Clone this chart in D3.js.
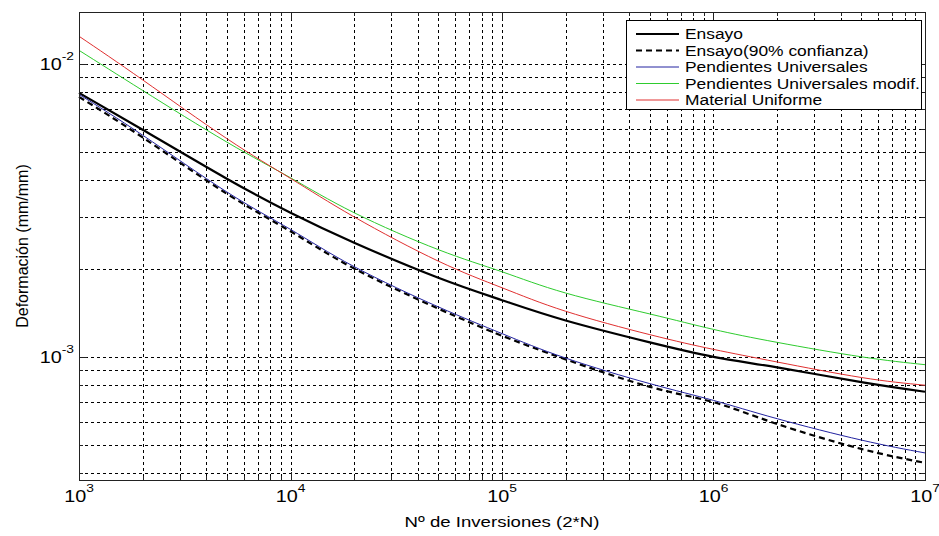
<!DOCTYPE html>
<html><head><meta charset="utf-8">
<script src="https://cdn.jsdelivr.net/npm/d3@7"></script>
<style>body{margin:0;background:#fff}svg{display:block;font-family:Arial,"Liberation Sans",sans-serif}</style>
</head><body><svg id="c" width="939" height="536"></svg>
<script>
// ---- data ----
const cycles = [1e3, 2e3, 5e3, 1e4, 2e4, 5e4, 1e5, 2e5, 5e5, 1e6, 2e6, 5e6, 1e7];
const ensayo       = [7.95e-3, 5.95e-3, 4.05e-3, 3.1e-3, 2.45e-3, 1.86e-3, 1.56e-3, 1.33e-3, 1.12e-3, 1.0e-3, 9.2e-4, 8.2e-4, 7.6e-4];
const ensayo90     = [7.7e-3, 5.6e-3, 3.6e-3, 2.68e-3, 2.0e-3, 1.46e-3, 1.18e-3, 9.8e-4, 7.9e-4, 7.0e-4, 5.9e-4, 4.85e-4, 4.35e-4];
const universales  = [7.85e-3, 5.7e-3, 3.65e-3, 2.72e-3, 2.03e-3, 1.48e-3, 1.2e-3, 9.9e-4, 8.1e-4, 7.1e-4, 6.15e-4, 5.2e-4, 4.7e-4];
const univModif    = [1.11e-2, 8.1e-3, 5.4e-3, 4.08e-3, 3.1e-3, 2.32e-3, 1.95e-3, 1.65e-3, 1.4e-3, 1.24e-3, 1.12e-3, 1.0e-3, 9.4e-4];
const uniforme     = [1.24e-2, 8.8e-3, 5.55e-3, 4.06e-3, 3.0e-3, 2.12e-3, 1.72e-3, 1.43e-3, 1.19e-3, 1.06e-3, 9.6e-4, 8.5e-4, 8.0e-4];
const seriesNames  = ["Ensayo", "Ensayo(90% confianza)", "Pendientes Universales", "Pendientes Universales modif.", "Material Uniforme"];
const xTickExps    = [3, 4, 5, 6, 7];
const yTickExps    = [-2, -3];
const xTitle = "Nº de Inversiones (2*N)";
const yTitle = "Deformación (mm/mm)";

// ---- layout / styles ----
const L = 79, R = 925, T = 12, B = 480;
const SX = 1.2; // horizontal stretch of the reference's text
const styles = [
  {color: "#000", width: 2.2, dash: null},
  {color: "#000", width: 2.2, dash: "6,4"},
  {color: "#2323a0", width: 1, dash: null},
  {color: "#2ecc2e", width: 1, dash: null},
  {color: "#e03030", width: 1, dash: null}
];
const allSeries = [ensayo, ensayo90, universales, univModif, uniforme];

const svg = d3.select("#c");
const x = d3.scaleLog().domain([1e3, 1e7]).range([L, R]);
const y = d3.scaleLog().domain([3.8e-4, 1.5e-2]).range([B, T]);

const xAll = [], yAll = [];
for (let e = 3; e <= 7; e++) for (let m = 1; m <= 9; m++) { const v = m * Math.pow(10, e); if (v >= 1e3 && v <= 1e7) xAll.push({v, major: m === 1}); }
for (let e = -4; e <= -2; e++) for (let m = 1; m <= 9; m++) { const v = m * Math.pow(10, e); if (v >= 3.8e-4 && v <= 1.5e-2) yAll.push({v, major: m === 1}); }

const grid = svg.append("g").attr("stroke", "#000").attr("stroke-width", 1).attr("stroke-dasharray", "3,3").attr("shape-rendering", "crispEdges");
grid.selectAll("line.v").data(xAll.filter(d => d.v > 1e3 && d.v < 1e7)).join("line")
  .attr("x1", d => Math.round(x(d.v)) + 0.5).attr("x2", d => Math.round(x(d.v)) + 0.5).attr("y1", T).attr("y2", B);
grid.selectAll("line.h").data(yAll).join("line")
  .attr("y1", d => Math.round(y(d.v)) + 0.5).attr("y2", d => Math.round(y(d.v)) + 0.5).attr("x1", L).attr("x2", R);

const tk = svg.append("g").attr("stroke", "#222").attr("stroke-width", 1).attr("shape-rendering", "crispEdges");
xAll.forEach(d => {
  const px = Math.round(x(d.v)) + 0.5, len = d.major ? 8 : 4;
  tk.append("line").attr("x1", px).attr("x2", px).attr("y1", B).attr("y2", B - len);
  tk.append("line").attr("x1", px).attr("x2", px).attr("y1", T).attr("y2", T + len);
});
yAll.forEach(d => {
  const py = Math.round(y(d.v)) + 0.5, len = d.major ? 8 : 4;
  tk.append("line").attr("y1", py).attr("y2", py).attr("x1", L).attr("x2", L + len);
  tk.append("line").attr("y1", py).attr("y2", py).attr("x1", R).attr("x2", R - len);
});

const line = d3.line().x(d => x(d[0])).y(d => y(d[1])).curve(d3.curveNatural);
allSeries.forEach((s, i) => {
  const st = styles[i];
  svg.append("path").datum(cycles.map((c, j) => [c, s[j]]))
    .attr("d", line).attr("fill", "none").attr("stroke", st.color).attr("stroke-width", st.width)
    .attr("stroke-dasharray", st.dash).attr("stroke-linejoin", "round");
});

svg.append("rect").attr("x", L + 0.5).attr("y", T + 0.5).attr("width", R - L).attr("height", B - T)
  .attr("fill", "none").attr("stroke", "#222").attr("stroke-width", 1).attr("shape-rendering", "crispEdges");

function stext(g, px, py, anchor, size) {
  return g.append("text").attr("transform", `translate(${px},${py}) scale(${SX},1)`)
    .attr("text-anchor", anchor).attr("font-size", size);
}
const xl = svg.append("g").attr("fill", "#000");
xTickExps.forEach(e => {
  const t = stext(xl, x(Math.pow(10, e)), 502, "middle", 16.5);
  t.append("tspan").text("10");
  t.append("tspan").attr("dy", -10).attr("font-size", 11.5).text(e);
});
yTickExps.forEach(e => {
  const t = stext(xl, 74, y(Math.pow(10, e)) + 6, "end", 16.5);
  t.append("tspan").text("10");
  t.append("tspan").attr("dy", -10).attr("font-size", 11.5).text(e);
});

stext(svg, (L + R) / 2, 527, "middle", 15.5).text(xTitle);
svg.append("text").attr("transform", `translate(28,${(T + B) / 2}) rotate(-90)`).attr("text-anchor", "middle").attr("font-size", 16).text(yTitle);

const lg = svg.append("g");
lg.append("rect").attr("x", 626.5).attr("y", 20.5).attr("width", 295).attr("height", 89)
  .attr("fill", "#fff").attr("stroke", "#000").attr("stroke-width", 1).attr("shape-rendering", "crispEdges");
seriesNames.forEach((n, i) => {
  const yy = 34 + i * 16.5, st = styles[i];
  lg.append("line").attr("x1", 636).attr("x2", 679).attr("y1", yy).attr("y2", yy)
    .attr("stroke", st.color).attr("stroke-width", st.width).attr("stroke-dasharray", st.dash);
  stext(lg, 685, yy + 5, "start", 14.5).text(n);
});
</script></body></html>
